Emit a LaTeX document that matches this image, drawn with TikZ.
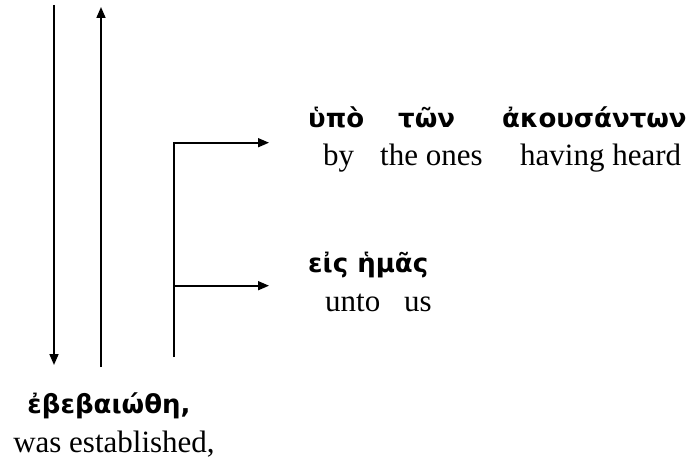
\documentclass[tikz,border=0pt]{standalone}
\usepackage{fontspec}
\setmainfont{Liberation Serif}
\newfontfamily\greekfont{DejaVu Sans}
\usetikzlibrary{arrows.meta}
\begin{document}
\begin{tikzpicture}[
        x=1pt, y=-1pt,
        gk/.style={inner sep=0pt, anchor=base west, font=\greekfont\bfseries\fontsize{26}{30}\selectfont},
        en/.style={inner sep=0pt, anchor=base west, font=\fontsize{31}{36}\selectfont},
        arr/.style={line width=1.6pt, -{Triangle[length=11pt,width=9pt]}}
    ]
    \useasboundingbox (0,0) rectangle (691,460);
    % upper phrase
    \node[gk] (hypo) at (308,128) {ὑπὸ};
    \node[gk] (ton) at (398,128) {τῶν};
    \node[gk] (akous) at (502,128) {ἀκουσάντων};
    \node[en] (by) at (323,165) {by};
    \node[en] (ones) at (380,165) {the ones};
    \node[en] (heard) at (520,165) {having heard};
    % lower phrase
    \node[gk] (eis) at (308,272) {εἰς ἡμᾶς};
    \node[en] (unto) at (325,311) {unto};
    \node[en] (us) at (404,311) {us};
    % verb
    \node[gk, anchor=base] (verb) at (109,413) {ἐβεβαιώθη,};
    \node[en, anchor=base] (estab) at (114,452) {was established,};
    \coordinate (downTop) at (54,5);
    \coordinate (downTip) at (54,365);
    \coordinate (upFoot) at (101,367);
    \coordinate (upTip) at (101,7);
    \coordinate (stemFoot) at (174,357);
    \coordinate (fork) at (174,285.7);
    \coordinate (upperTip) at (269,142.7);
    \coordinate (lowerTip) at (269,285.7);
    \draw[arr] (downTop) -- (downTip);
    \draw[arr] (upFoot) -- (upTip);
    \draw[arr] (stemFoot) |- (upperTip);
    \draw[arr] (fork) -- (lowerTip);
\end{tikzpicture}
\end{document}
